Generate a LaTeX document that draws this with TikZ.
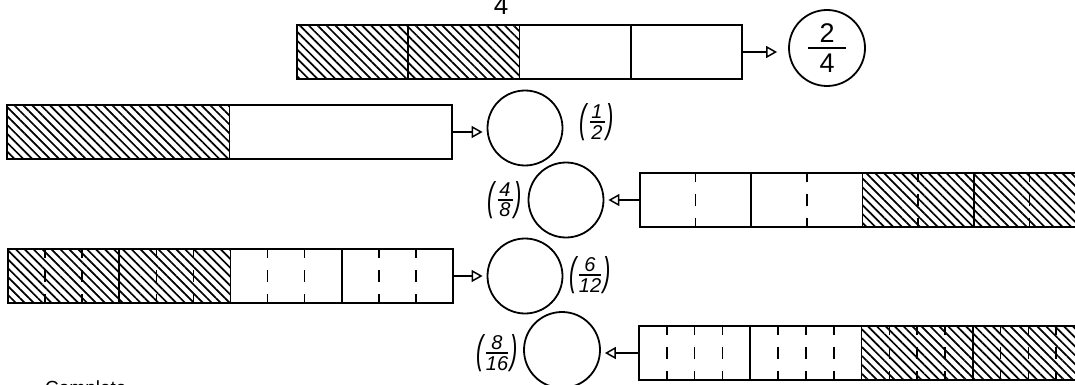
\documentclass[tikz,border=0pt]{standalone}
\usepackage{fontspec}
\setmainfont{Liberation Sans}
\usepackage{graphicx}
\usetikzlibrary{arrows.meta,patterns.meta,calc}

% stacked fraction: width, gap, numerator, denominator
\newcommand{\stk}[4]{\vcenter{\hbox{\vbox{\hbox to #1{\hss#3\hss}\vskip#2\hrule height 1.4pt\vskip#2\hbox to #1{\hss#4\hss}}}}}
% parenthesised italic fraction label
\newcommand{\pfr}[3]{{\fontsize{20}{22}\selectfont\itshape$\vcenter{\hbox{\scalebox{1.1}[2.0]{(}}}\mkern2mu\stk{#1}{2.5pt}{#2}{#3}\mkern2mu\vcenter{\hbox{\scalebox{1.1}[2.0]{)}}}$}}

\tikzset{
  barbox/.style={rectangle, draw, line width=1.8pt, minimum height=54pt, inner sep=0pt},
  ring/.style={circle, draw, line width=1.8pt, minimum size=75pt, inner sep=0pt},
  arr/.style={line width=1.5pt, -{Triangle[open, length=11pt, width=12pt, line width=1.5pt]}, shorten >=4pt},
  hatch/.style={pattern={Lines[angle=-45, distance=6.3pt, line width=1.7pt]}, pattern color=black},
  divline/.style={line width=1.6pt},
  subline/.style={line width=1.6pt, dash pattern=on 9pt off 12pt on 12pt off 12pt on 9pt},
  lbl/.style={inner sep=0pt}
}

\begin{document}
\begin{tikzpicture}[x=1pt, y=-1pt]
\useasboundingbox (0,0) rectangle (1075,385);
\fill[white] (0,0) rectangle (1075,385);

% ---------- hatching ----------
\fill[hatch] (297,25) rectangle (519.5,79);
\fill[hatch] (7,105) rectangle (229.5,159);
\fill[hatch] (862.5,173) rectangle (1085,227);
\fill[hatch] (8,249) rectangle (230.5,303);
\fill[hatch] (861.5,326) rectangle (1084,380);

% ---------- bar 1 : quarters ----------
\node[barbox, minimum width=445pt] (b1) at (519.5,52) {};
\foreach \k in {1,2,3} \draw[divline] (297+111.25*\k,25) -- (297+111.25*\k,79);

% ---------- bar 2 : halves ----------
\node[barbox, minimum width=445pt] (b2) at (229.5,132) {};
\draw[divline] (229.5,105) -- (229.5,159);

% ---------- bar 3 : eighths ----------
\node[barbox, minimum width=445pt] (b3) at (862.5,200) {};
\foreach \k in {1,2,3} \draw[divline] (640+111.25*\k,173) -- (640+111.25*\k,227);
\foreach \k in {0,1,2,3} \draw[subline] (640+111.25*\k+55.625,173) -- (640+111.25*\k+55.625,227);

% ---------- bar 4 : twelfths ----------
\node[barbox, minimum width=445pt] (b4) at (230.5,276) {};
\foreach \k in {1,2,3} \draw[divline] (8+111.25*\k,249) -- (8+111.25*\k,303);
\foreach \k in {0,1,2,3} \foreach \j in {1,2}
  \draw[subline] (8+111.25*\k+37.083*\j,249) -- (8+111.25*\k+37.083*\j,303);

% ---------- bar 5 : sixteenths ----------
\node[barbox, minimum width=445pt] (b5) at (861.5,353) {};
\foreach \k in {1,2,3} \draw[divline] (639+111.25*\k,326) -- (639+111.25*\k,380);
\foreach \k in {0,1,2,3} \foreach \j in {1,2,3}
  \draw[subline] (639+111.25*\k+27.8125*\j,326) -- (639+111.25*\k+27.8125*\j,380);

% ---------- circles ----------
\node[ring, minimum size=76pt] (c1) at (827,48) {\fontsize{27}{29}\selectfont$\stk{38pt}{5pt}{2}{4}$};
\node[ring] (c2) at (525,128) {};
\node[ring] (c3) at (566,200) {};
\node[ring] (c4) at (525,276) {};
\node[ring, minimum size=76pt] (c5) at (562,350) {};

% ---------- connectors ----------
\draw[arr, shorten >=11pt] (b1.east) -- (b1.east -| c1.west);
\draw[arr] (b2.east) -- (b2.east -| c2.west);
\draw[arr] (b3.west) -- (b3.west -| c3.east);
\draw[arr] (b4.east) -- (b4.east -| c4.west);
\draw[arr] (b5.west) -- (b5.west -| c5.east);

% ---------- labels ----------
\node[lbl] (l2) at (597,122) {\pfr{15pt}{1}{2}};
\node[lbl] (l3) at (505,200) {\pfr{15pt}{4}{8}};
\node[lbl] (l4) at (590,275) {\pfr{22pt}{6}{12}};
\node[lbl] (l5) at (497,353) {\pfr{22pt}{8}{16}};

% ---------- clipped texts at the edges ----------
\node[anchor=base, inner sep=0pt, font=\fontsize{26}{28}\selectfont] (top4) at (501,15) {4};
\node[anchor=base west, inner sep=0pt, font=\fontsize{19}{21}\selectfont] (cmp) at (45,394) {Complete};
\end{tikzpicture}
\end{document}
